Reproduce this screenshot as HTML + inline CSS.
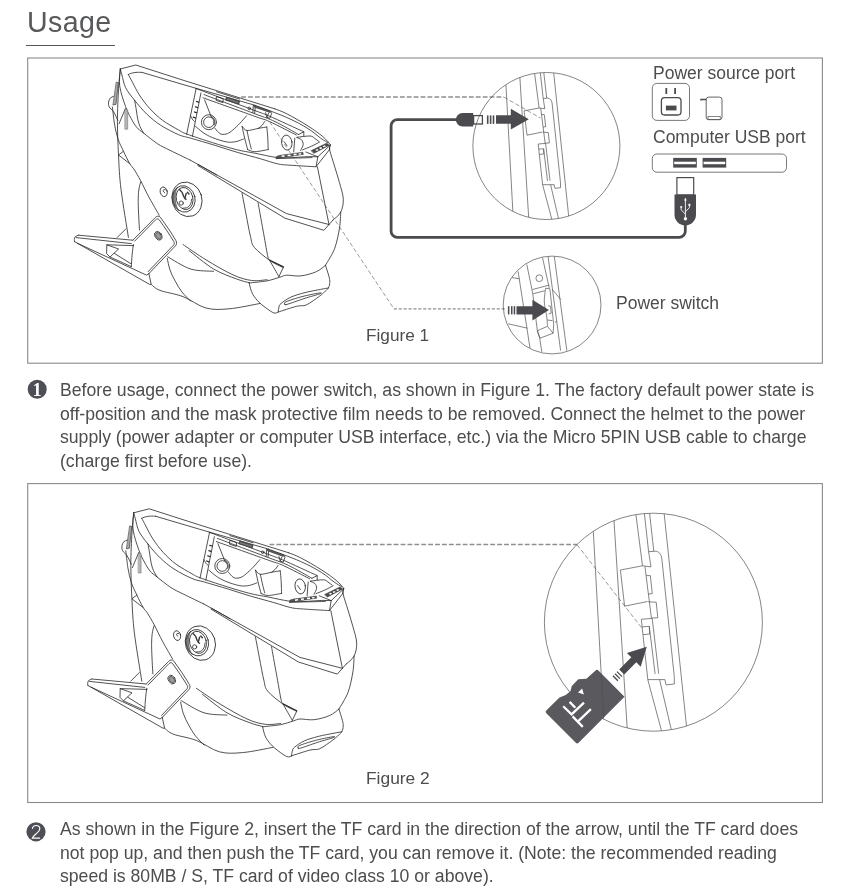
<!DOCTYPE html>
<html>
<head>
<meta charset="utf-8">
<title>Usage</title>
<style>
html,body{margin:0;padding:0;background:#fff;}
body{width:849px;height:892px;position:relative;overflow:hidden;font-family:"Liberation Sans",sans-serif;color:#4d4d4f;}
.abs{position:absolute;}
h1{will-change:transform;position:absolute;left:26.500px;top:4px;letter-spacing:0.350px;margin:0;font-weight:normal;font-size:28.6px;line-height:36px;color:#58595b;white-space:nowrap;}
.rule{position:absolute;left:26px;top:45px;width:89px;height:1.3px;background:#555;}
.box{position:absolute;left:27px;width:795px;border:1px solid #9a9a9a;box-sizing:border-box;}
#box1{top:57px;height:306px;}
#box2{top:483px;height:320px;}
.para{will-change:transform;position:absolute;left:60px;width:780px;font-size:17.640px;line-height:23.6px;white-space:nowrap;color:#4d4d4f;}
.lbl{will-change:transform;position:absolute;font-size:17.5px;line-height:20px;white-space:nowrap;color:#4d4d4f;}
#art{position:absolute;left:0;top:0;width:849px;height:892px;}
</style>
</head>
<body>
<h1>Usage</h1>
<div class="rule"></div>

<div class="lbl" style="left:653px;top:63px;">Power source port</div>
<div class="lbl" style="left:653px;top:127px;">Computer USB port</div>
<div class="lbl" style="left:616px;top:293px;">Power switch</div>
<div class="lbl" style="left:366.3px;top:325px;font-size:17.2px;">Figure 1</div>
<div class="lbl" style="left:366.3px;top:768px;font-size:17.400px;">Figure 2</div>

<div class="para" style="top:378.9px;">Before usage, connect the power switch, as shown in Figure 1. The factory default power state is<br>off-position and the mask protective film needs to be removed. Connect the helmet to the power<br>supply (power adapter or computer USB interface, etc.) via the Micro 5PIN USB cable to charge<br>(charge first before use).</div>

<div class="para" style="top:818px;">As shown in the Figure 2, insert the TF card in the direction of the arrow, until the TF card does<br>not pop up, and then push the TF card, you can remove it. (Note: the recommended reading<br>speed is 80MB / S, TF card of video class 10 or above).</div>

<svg id="art" viewBox="0 0 849 892" width="849" height="892">
<defs>
<g id="helm" fill="none" stroke="#262626" stroke-width="0.8" stroke-linecap="round" stroke-linejoin="round">
<path d="M120.3,69 L135.8,65 L185,80.8 L275,108.9"/>
<path d="M275,108.9 C277,109.7 281.3,111 286.8,113.8 C292.3,116.6 302,122.2 308,126 C314,129.8 319.1,133.5 322.8,136.6 C326.5,139.7 329.1,143.2 330.3,144.5"/>
<path d="M128.3,74.5 C128.8,74.3 130.1,73.6 131.5,73.2 C132.9,72.8 135.2,72.4 137,72.3 C138.8,72.2 141.2,72.4 142,72.4"/>
<path d="M142,72.4 L185,85.1 L255,105.3"/>
<path d="M255,105.3 C260.3,107.3 278,113.6 286.8,117.5 C295.6,121.4 302.4,125.1 308,128.6 C313.6,132 317.3,135.8 320.7,138.2 C324.1,140.6 326.9,142.1 328.1,142.9"/>
<path d="M195.6,88.4 C205.5,92.1 242.8,106 255,110.6 C267.2,115.2 260.7,112.4 268.8,115.9 C276.9,119.4 298,129.2 303.8,131.8"/>
<path d="M204,94.6 C212.5,97.8 243.2,109.3 255,113.8 C266.8,118.3 267.8,118.1 275,121.6 C282.2,125 294.6,132.3 298.5,134.5"/>
<path d="M203,97.8 C211.7,100.9 243.9,112.4 255,116.4 C266.1,120.4 262.9,118.6 269.8,121.7 C276.7,124.8 291.9,132.8 296.3,135"/>
<path d="M128.3,74.5 C129,75.8 130.7,78.9 132.5,82.3 C134.3,85.7 136.5,90.6 139.4,95 C142.3,99.4 146.1,104.6 150,108.8 C153.9,113 157.9,116.9 162.7,120.4 C167.5,123.9 174.5,127.7 178.6,130 C182.7,132.3 181.4,132 187,134.1 C192.6,136.2 204.2,140 212.4,142.6 C220.6,145.2 229.3,147.8 236.4,149.6 C243.5,151.4 248.2,151.9 254.8,153.2 C261.4,154.5 270.1,156.6 276,157.4 C281.9,158.2 284,158.1 290,158.1 C296,158.1 308.3,157.7 312,157.6"/>
<path d="M120.3,69 C120.6,70 121,71.7 121.9,74.8 C122.8,77.9 123.5,83.3 125.6,87.6 C127.7,91.8 131.1,95.9 134.6,100.3 C138.1,104.7 142.5,109.9 146.8,114.1 C151.1,118.2 155.3,121.8 160.6,125.2 C165.9,128.6 173.5,132.5 178.6,134.7 C183.7,136.9 185.1,136.5 191.2,138.3 C197.3,140.1 207.4,143 215.2,145.4 C223,147.8 230.2,150.3 237.8,152.5 C245.4,154.7 253.9,156.9 260.5,158.8 C267.1,160.7 272.5,162.7 277.4,163.8 C282.3,164.9 283.6,164.7 290,165.2 C296.4,165.7 311.7,166.5 316,166.8"/>
<path d="M120.3,69 C120.2,71.9 118.9,80.2 119.8,86.5 C120.7,92.8 123.7,101.3 125.6,106.6 C127.5,111.9 129.2,114.8 131,118.2 C132.8,121.7 134.6,124.8 136.7,127.3 C138.8,129.8 140.1,130.4 143.6,133.1 C147.1,135.8 153,140.8 157.4,143.7 C161.8,146.6 164.6,147.6 170,150.3 C175.4,153 186.7,158.4 190,160"/>
<path d="M190,160 L286.5,213.6 L329,224.5"/>
<path d="M197.7,165.4 L285,218.2 L323.9,230.3 L333,220"/>
<path d="M134.6,100.3 C134.9,101.9 135.8,106.8 136.3,110 C136.8,113.2 137.2,116.7 137.8,119.4 C138.4,122.2 139,124.2 140,126.5 C141,128.8 143,132 143.6,133.1"/>
<path d="M120.3,69 C120,72.2 119.1,79.6 118.6,88.4 C118.1,97.2 117.4,110.5 117.4,121.6 C117.4,132.7 117.9,143.7 118.5,155 C119.1,166.3 119.3,175.6 121,189.3 C122.7,203 127.2,229.4 128.4,237.4"/>
<path d="M112.4,107 C112.8,109.8 113.6,118.7 114.5,124 C115.4,129.3 116.5,134.4 118,139 C119.5,143.6 121.6,147.2 123.5,151.3 C125.4,155.4 127.8,160.3 129.6,163.4 C131.4,166.5 132.7,167.1 134.5,170 C136.3,172.9 138.2,176.1 140.7,180.8 C143.2,185.5 146.3,192.3 149.4,198 C152.5,203.7 157.6,212.3 159.2,215.2"/>
<path d="M113.6,96.4 C113,96.7 111.1,97.1 110.3,98 C109.5,98.9 108.8,100.4 108.6,101.9 C108.4,103.4 108.4,105.2 109.2,106.9 C110,108.6 112.1,109.5 113.6,111.8 C115,114 117.2,119 117.9,120.4"/>
<path d="M125.4,108.6 L119,123.8"/>
<path d="M123.4,151.3 L118.5,155 L129.6,163.6"/>
<path d="M140.7,181.9 C140.4,183.2 139.2,186.7 138.8,190 C138.4,193.3 138.2,197 138.2,201.7 C138.2,206.4 138.6,213.3 138.8,218 C139,222.7 139.4,228 139.5,230"/>
<path d="M125.9,228.8 L117.3,237.4"/>
<path d="M116.6,82.2 L118.4,82.8 L116,104.4 L113.3,105Z" fill="#a8a8a8" stroke-width="0.6"/>
<path d="M125.1,109.6 L127.7,109.6 L127.7,129.2 L125.1,129.2Z" fill="#b4b4b4" stroke-width="0.5" stroke="#666"/>
<path d="M330.3,144.9 L329.3,149.8"/>
<path d="M330.3,144.5 C330.2,145.4 329,146.4 329.7,150 C330.4,153.6 332.9,160.6 334.5,166 C336.1,171.4 337.9,176.9 339.4,182.4 C340.9,187.9 343.1,194.2 343.3,199.2 C343.5,204.2 342.4,208.7 340.7,212.2 C339,215.7 334.3,218.7 333,220"/>
<path d="M317.4,166.8 L329,224.5"/>
<path d="M340.7,212.2 C340.5,214.8 340.5,222 339.5,228 C338.5,234 337,242.2 334.7,248.4 C332.4,254.6 327,262.5 325.5,265.3"/>
<path d="M325.5,265.3 C324,266.4 320.4,269.9 316.3,271.7 C312.2,273.5 305.8,275.3 300.8,275.9 C295.9,276.5 290.1,275 286.6,275.2 C283.1,275.4 282.9,276.4 279.6,277.3 C276.3,278.2 272,279.9 266.9,280.9 C261.8,281.8 252.1,282.6 249.2,283"/>
<path d="M249.2,283 C249.5,284.2 250.2,287.8 251,290 C251.8,292.2 252.4,294 254.1,296.4 C255.8,298.8 258,301.5 261.2,304.2 C264.4,306.9 270.4,311.4 273.2,312.7 C276,314 277.4,312.1 278.2,312"/>
<path d="M325.5,265.3 C326.1,267.2 328.3,273.8 329,276.6 C329.7,279.4 329.9,280.4 329.8,282.3 C329.7,284.2 329.4,286.2 328.3,288 C327.2,289.8 324.9,291.5 323.4,292.9 C321.9,294.3 322,294.4 319.2,296.4 C316.4,298.4 310.2,303.2 306.4,304.9 C302.6,306.5 301.2,305.1 296.5,306.3 C291.8,307.5 281.2,311.1 278.2,312"/>
<path d="M278.2,312 C278.3,311.2 278.5,308.4 279,307 C279.5,305.6 279,305.1 281,303.5 C283,301.9 286.9,298.9 290.9,297.1 C294.9,295.3 300.1,293.9 305,292.6 C309.9,291.3 316.7,290.2 320.6,289.4 C324.5,288.6 327,288.2 328.3,288"/>
<path d="M285,304.2 C284.8,303.8 283.2,303.1 286,301.8 C288.8,300.5 296.6,298.1 302,296.6 C307.4,295.2 315.6,293.6 318.6,293.1 C321.6,292.6 322.4,292.9 320,293.8 C317.6,294.7 309.5,296.8 304,298.6 C298.5,300.4 290.2,303.5 287,304.4 C283.8,305.3 285.2,304.6 285,304.2Z"/>
<path d="M242,193 C242.7,196.5 244.6,206.7 246,214 C247.4,221.3 249.1,231 250.5,236.6 C251.9,242.2 251.1,243.3 254.3,247.3 C257.5,251.3 264.9,257 269.7,260.4 C274.5,263.8 281,266.3 283.3,267.5"/>
<path d="M283.3,267.5 L278.9,276.6"/>
<path d="M258.1,202.9 C258.9,207.4 261.4,221.2 263,230 C264.6,238.8 266.5,250.3 267.6,255.4 C268.7,260.5 267.8,256.9 269.7,260.4 C271.6,263.9 277.4,273.9 278.9,276.6"/>
<path d="M270,260.2 L283.3,266.9" stroke-width="1.2"/>
<path d="M183,244.5 C186.8,247.1 197.6,254.7 206,259.8 C214.4,264.9 225.8,271.7 233.5,275.1 C241.2,278.6 246.3,279.7 251.9,280.5 C257.5,281.3 264.6,279.8 267.2,279.7"/>
<path d="M189.1,250.6 C193.2,253.7 205.7,264.3 213.6,269 C221.5,273.7 230.6,276.7 236.6,279 C242.6,281.3 247.4,282.2 249.6,282.8"/>
<path d="M167.7,256.8 C171.5,258.8 182.9,266.6 190.6,269 C198.2,271.4 209.8,270.9 213.6,271.3"/>
<path d="M167.2,258.3 C167.7,260.2 168.7,266.2 170,270 C171.3,273.8 173.3,277.6 175.3,281.3 C177.3,285 179.4,288.7 182,292 C184.6,295.3 189.2,299.7 190.6,301.2"/>
<path d="M151.2,284.4 C152.7,285.4 154.7,288.4 160,290.4 C165.3,292.4 175.3,293.7 183,296.6 C190.7,299.5 198.3,306 206,308 C213.7,310 220,309.6 229,308.8 C238,308.1 254.7,304.4 259.8,303.5"/>
<path d="M78.4,235.2 C77.9,235.5 75.9,236.1 75.2,236.8 C74.5,237.5 74.4,238.8 74.3,239.6 C74.2,240.4 74.5,241.3 74.5,241.6"/>
<path d="M74.5,241.6 L149.6,284.4 L151.2,284.4 L148.9,273.6"/>
<path d="M78.4,235.2 L132.8,240.2"/>
<path d="M76.2,237.6 L131.4,243.6"/>
<path d="M77.5,243.3 L146.6,275.2 L148.9,273.6"/>
<path d="M133.6,245.6 L106.8,244.8 L106.6,253.6 L110,257 L118.6,249 L106.8,244.8"/>
<path d="M110,257 L131.2,266.6"/>
<path d="M114.5,253.5 L131.4,264"/>
<path d="M133.4,244.5 C133.2,246.1 132.5,250.3 132.2,254 C131.8,257.7 131.5,264.5 131.3,266.6"/>
<path d="M132.8,240.2 L155.2,217.6 C156.8,215.9 158.8,215.6 160.3,217.2 C166,225 171.5,233 175.9,240.6 C177,242.6 176.8,244.2 175.5,245.800 L148.9,273.600"/>
<path d="M134.6,241.200 L155.6,219.800 C156.800,218.600 158.200,218.500 159.200,219.800 C164.500,227 169.500,234.500 173.800,241.600 C174.600,243 174.400,244 173.600,245 L148.200,271.600"/>
<ellipse cx="158.4" cy="235.8" rx="3.3" ry="4.6" transform="rotate(-32 158.4 235.8)"/>
<ellipse cx="158.4" cy="235.8" rx="2.4" ry="3.600" transform="rotate(-32 158.4 235.8)" stroke-width="0.800" stroke="#555" fill="#999"/>
<ellipse cx="187" cy="199.3" rx="14.9" ry="17.5" transform="rotate(-18 187 199.3)"/>
<ellipse cx="183.9" cy="198.9" rx="11.2" ry="13.3" transform="rotate(-14 183.9 198.9)"/>
<path d="M177.2,187.6 C171.4,192.6 171.6,204.6 178.8,210.8 C174.6,204.6 174,193.6 177.2,187.6 Z" fill="#8a8a8a" stroke-width="0.5"/>
<ellipse cx="184.6" cy="198.5" rx="8.3" ry="11.2" transform="rotate(-14 184.6 198.500)"/>
<circle cx="181.2" cy="203.1" r="2.1"/>
<path d="M179.6,189.8 L181.600,191.800 M187.400,192.200 L189,194 M184.400,198 L186,199.400 M182.200,192.500 L183.800,196.800 M186.200,193.400 L185.200,197.200" stroke-width="1.4" stroke="#3a3a3a"/>
<path d="M182.8,208.2 C183.6,208.1 186.2,208.1 187.5,207.4 C188.8,206.7 189.9,205.4 190.6,204 C191.3,202.6 191.4,200 191.6,199.2"/>
<ellipse cx="163.7" cy="191.8" rx="3.5" ry="4.9" transform="rotate(-14 163.700 191.800)"/>
<path d="M165.4,189.8 C165.1,189.8 164.2,189.4 163.8,189.6 C163.4,189.8 163.1,190.7 163.2,191.2 C163.3,191.7 164.4,192.4 164.6,192.6"/>
<path d="M196.1,88.8 L186.6,134.4 M200.9,93 L192.4,136.4"/>
<path d="M196.5,101.5 L198.6,102.2 M195.5,106.8 L197.6,107.5 M194.4,112 L196.500,112.700 M193.300,117.200 L195.400,118" stroke-width="1.3"/>
<path d="M190.6,115.8 C190.9,116.3 191.5,118 192.2,119 C192.8,120 194.1,121.1 194.5,121.5"/>
<circle cx="208.9" cy="122.2" r="7.5"/><circle cx="208.9" cy="122.2" r="5.3"/>
<path d="M211.8,117 C212.2,117.5 213.7,118.8 214.2,120 C214.7,121.2 214.5,123.7 214.6,124.4" stroke-width="1.5" stroke="#666"/>
<path d="M204.6,99.9 L211.5,117.4"/>
<path d="M214.7,128 C215.3,128.7 217.3,131.3 218.5,132.4 C219.7,133.5 220.6,134.2 222.1,134.4 C223.6,134.6 225.7,134.3 227.5,133.6 C229.3,132.9 230.6,131.8 232.7,130.1 C234.8,128.4 237.7,125.6 240,123.2 C242.3,120.8 245.4,117 246.5,115.8"/>
<path d="M195.4,126.3 C196.7,127.3 200.2,130.6 203,132.5 C205.8,134.4 208.5,136 212.4,137.6 C216.3,139.2 222.6,141.2 226.5,141.9 C230.4,142.6 233.2,142.1 236,141.6 C238.8,141.1 242.2,139.4 243.5,139"/>
<path d="M216.8,96.7 L223.2,98.8 L222.9,102.6 L216.5,100.5Z"/>
<path d="M226.5,97.3 L239.4,101.4 L238.6,104 L225.8,99.9Z" stroke-width="1.2" stroke="#444" fill="#777"/>
<path d="M216.5,91.8 L239.6,99"/>
<circle cx="249.3" cy="108.4" r="1.3"/>
<path d="M253.5,105.4 L270.3,111.2 L271.6,113.4 L269.8,118.4 L266.8,117.2 L265.6,112.8 M253.3,105.6 L252.8,112.6 M255.4,106.6 L254.6,113.4 M266.8,117.2 L268.6,113.2"/>
<path d="M254.5,106.6 L269.8,112" stroke-width="1.8" stroke="#555"/>
<path d="M242.1,126.3 C242.9,127 244.3,130.2 247,130.5 C249.7,130.8 255,129 258.3,128.4 C261.6,127.8 265.4,127.2 266.8,127"/>
<path d="M266.8,127 C267,128.8 267.6,134.2 267.8,138 C268,141.8 268.1,147.7 268.2,149.6"/>
<path d="M242.1,126.3 C242.5,128.2 243.7,134.1 244.6,138 C245.5,141.9 247.2,147.7 247.7,149.6"/>
<path d="M247,130.5 C247.3,132.1 248.3,136.9 249,140 C249.7,143.1 250.9,147.5 251.3,149"/>
<path d="M247.7,149.6 C248.9,149.9 251.4,151.7 254.8,151.7 C258.2,151.7 266,149.9 268.2,149.6"/>
<path d="M258.3,128.4 C258.9,127.9 260.9,126.5 262,125.4 C263.1,124.3 264.2,122.2 264.6,121.6"/>
<path d="M298.5,134.5 L303.8,131.8 L303.8,136"/>
<path d="M296.9,137.3 C299.1,137.1 307.2,135.8 310.1,136 C313,136.2 313.1,137.3 314.5,138.2 C315.9,139.1 317.9,140.7 318.6,141.2"/>
<ellipse cx="286.8" cy="142.6" rx="5.2" ry="7.5" transform="rotate(-8 286.800 142.600)"/>
<path d="M284.2,141.8 L287,145.8"/>
<path d="M296.9,137.6 C297.7,138 300.4,138.7 301.5,139.8 C302.6,141 303.3,142.7 303.2,144.5 C303.1,146.3 301,149.6 300.6,150.6"/>
<path d="M294.8,138.2 L293.7,151.9"/>
<path d="M302.7,149.8 C304.2,149.2 308.7,147.5 311.5,146.2 C314.3,144.9 318.3,142.7 319.7,142"/>
<path d="M311.4,150.6 L326.6,143.2 L329.4,145.2 L314,153.2Z" fill="#4a4a4a" stroke-width="0.5"/>
<path d="M315.3,149.9 L317.4,148.9 L318.7,150 L316.600,151 Z M319,148.100 L321.100,147.100 L322.400,148.200 L320.300,149.200 Z M322.600,146.300 L324.700,145.300 L326,146.300 L323.900,147.300 Z" fill="#fff" stroke="none"/>
<path d="M305.9,152 L317.8,156.8 L330.1,145.3"/>
<path d="M317.8,156.8 L316.1,166.7 L329.3,149.8"/>
<path d="M276.6,156.3 L280,155.2 L302.9,152.2 L303.4,154.4 L276.3,158.5Z" fill="#555" stroke-width="0.4"/>
<path d="M281.5,155.6 L284.5,155.200 L284.700,156.700 L281.700,157.100 Z M287.500,154.800 L290.500,154.400 L290.700,155.900 L287.700,156.300 Z M293.500,154 L296.500,153.600 L296.700,155.100 L293.700,155.500 Z M298.500,153.400 L301,153.100 L301.200,154.500 L298.700,154.800 Z" fill="#fff" stroke="none"/>
<path d="M276.3,158.6 L308.7,156.6 L317.8,156.8"/>
<path d="M198.3,164.5 L216.6,175"/>
</g>
</defs>
<use href="#helm"/>
<use href="#helm" transform="translate(13.4,443.8)"/>
<clipPath id="cb1"><circle cx="546.4" cy="146" r="73.5"/></clipPath><clipPath id="cs1"><circle cx="552.1" cy="305" r="48.9"/></clipPath><g id="fig1">
<path d="M241.2,97 H503.8" stroke="#8e8e8e" stroke-width="1.3" stroke-dasharray="4.8 2.1" fill="none"/>
<path d="M503.8,97 L540.3,118" stroke="#555" stroke-width="0.6" stroke-dasharray="4.5 2.2" fill="none"/>
<path d="M269.8,122 L393.8,308.6" stroke="#555" stroke-width="0.6" stroke-dasharray="4.2 2.4" fill="none"/>
<path d="M393.8,308.9 H506.5" stroke="#8e8e8e" stroke-width="1.3" stroke-dasharray="3.1 1.8" fill="none"/>
<path d="M458,119.7 H397.3 a6.2,6.2 0 0 0 -6.2,6.2 V231.2 a6.2,6.2 0 0 0 6.2,6.2 H679.1 a6.2,6.2 0 0 0 6.2,-6.2 V222" fill="none" stroke="#4b4b4f" stroke-width="2.8"/>
<path d="M473.2,113.1 H462.6 a6.7,6.7 0 0 0 0,13.5 H473.2 Z" fill="#4b4b4f"/>
<rect x="473.6" y="115.6" width="8.8" height="8.4" fill="#fff" stroke="#4b4b4f" stroke-width="1.3"/>
<rect x="486.9" y="115.4" width="1.6" height="8.5" fill="#4b4b4f"/>
<rect x="489.8" y="115.4" width="1.6" height="8.5" fill="#4b4b4f"/>
<rect x="492.7" y="115.4" width="1.6" height="8.5" fill="#4b4b4f"/>
<path d="M496,115.3 H510.8 V108.8 L528.8,119.3 L510.8,129.5 V123.8 H496 Z" fill="#4b4b4f"/>
<circle cx="546.4" cy="146" r="73.5" fill="none" stroke="#505050" stroke-width="0.7"/>
<g clip-path="url(#cb1)">
<path d="M505.9,84.4 L512.8,210.5 L513.4,222.1" fill="none" stroke="#505050" stroke-width="0.7"/>
<path d="M519.8,76.5 L528.7,217.5 L529.3,225.4" fill="none" stroke="#505050" stroke-width="0.7"/>
<path d="M534.6,73.3 L539.1,108.0" fill="none" stroke="#505050" stroke-width="0.7"/>
<path d="M542.6,184.7 L551.9,219.5 L552.5,222.1" fill="none" stroke="#505050" stroke-width="0.7"/>
<path d="M540.3,72.8 L543.2,98.5 L544.8,108.7" fill="none" stroke="#505050" stroke-width="0.7"/>
<path d="M543.8,72.7 L546.7,98.1" fill="none" stroke="#505050" stroke-width="0.7"/>
<path d="M553.7,73.0 L568.4,213.5 L569.1,219.4" fill="none" stroke="#505050" stroke-width="0.7"/>
<path d="M550.6,184.7 L558.5,218.5 L559.3,222.1" fill="none" stroke="#505050" stroke-width="0.7"/>
<path d="M543.2,98.5 L547.6,98.1 C550.2,98.3 551.7,100.0 552.1,103.2 L560.5,182.7 L560.5,187.7 L554.9,188.3 L554.2,184.7 L542.6,184.7 L538.2,144.0 L545.6,143.4 L550.0,180.7" fill="none" stroke="#505050" stroke-width="0.7"/>
<path d="M544.8,108.7 L539.1,108.0 L524.1,110.8 L527.0,135.2 L542.5,132.0" fill="none" stroke="#505050" stroke-width="0.7"/>
<path d="M540.7,108.2 L545.1,143.0" fill="none" stroke="#505050" stroke-width="0.7"/>
<path d="M541.5,114.6 L544.3,114.6 L545.7,126.7 L543.0,127.0" fill="none" stroke="#505050" stroke-width="0.7"/>
<path d="M542.9,132.2 L548.3,132.5 L549.4,143.0 L545.1,143.2" fill="none" stroke="#505050" stroke-width="0.7"/>
<path d="M538.8,149.1 L543.6,148.8 L543.8,154.0 L539.4,154.4" fill="none" stroke="#505050" stroke-width="0.7"/>
<path d="M543.6,148.8 L547.5,180.9" fill="none" stroke="#505050" stroke-width="0.7"/>
</g>
<rect x="652.3" y="83.4" width="37.2" height="37" rx="4.5" fill="none" stroke="#6a6a6a" stroke-width="0.9"/>
<rect x="665.4" y="88" width="1.8" height="6" fill="#4b4b4f"/><rect x="674.2" y="88" width="1.800" height="6" fill="#4b4b4f"/>
<rect x="661.4" y="97.6" width="19.6" height="17.4" rx="3.2" fill="none" stroke="#4b4b4f" stroke-width="1.3"/>
<rect x="665.9" y="105.6" width="10.6" height="4.8" fill="#4b4b4f"/>
<rect x="706.2" y="97.1" width="15.8" height="22.6" rx="2.6" fill="none" stroke="#555" stroke-width="0.9"/>
<rect x="708" y="116.6" width="12.2" height="2.9" fill="none" stroke="#555" stroke-width="0.7"/>
<path d="M700.4,99.4 H706.4 M700.9,99.4 V100.600" stroke="#4b4b4f" stroke-width="1.5" fill="none"/>
<rect x="652.3" y="154" width="134.2" height="18.2" rx="4.5" fill="#fff" stroke="#6a6a6a" stroke-width="0.9"/>
<rect x="673.2" y="157.9" width="23.6" height="9.7" fill="#4b4b4f"/>
<rect x="674.2" y="161.7" width="21.6" height="2.5" fill="#fff"/>
<rect x="702.6" y="157.9" width="23.6" height="9.7" fill="#4b4b4f"/>
<rect x="703.6" y="161.7" width="21.6" height="2.5" fill="#fff"/>
<rect x="676.9" y="177.6" width="16.800" height="17.4" fill="#fff" stroke="#4b4b4f" stroke-width="1.2"/>
<path d="M674.5,194.4 H696 V214.6 a10.75,10.75 0 0 1 -21.5,0 Z" fill="#4b4b4f"/>
<g stroke="#fff" stroke-width="0.9" fill="none"><path d="M685.4,199.5 V217.5 M685.4,214.2 L681.200,209.800 V207.600 M685.400,211.800 L689.400,207.600 V205.600"/></g>
<path d="M685.4,197.6 L686.8,200.4 H684 Z" fill="#fff"/><circle cx="685.4" cy="218.800" r="1.700" fill="#fff"/><circle cx="681.200" cy="207" r="1.100" fill="#fff"/><rect x="688.400" y="203.800" width="2" height="2" fill="#fff"/>
<circle cx="552.1" cy="305" r="48.9" fill="none" stroke="#505050" stroke-width="0.7"/>
<g clip-path="url(#cs1)">
<path d="M518.1,271.4 L530,348.1" fill="none" stroke="#505050" stroke-width="0.7"/>
<path d="M526.8,264.5 L532.7,293.2 L537.5,331.9 L539.7,338.2 L541.8,351.9" fill="none" stroke="#505050" stroke-width="0.7"/>
<path d="M542.5,257.6 L549.3,288.2" fill="none" stroke="#505050" stroke-width="0.7"/>
<path d="M548.1,256.6 L560.6,350.6" fill="none" stroke="#505050" stroke-width="0.7"/>
<path d="M554.3,256.6 L566.8,350.6" fill="none" stroke="#505050" stroke-width="0.7"/>
<path d="M552.4,289.5 L560.8,299.6" fill="none" stroke="#505050" stroke-width="0.7"/>
<path d="M532.5,289.5 L549.3,285.1" fill="none" stroke="#505050" stroke-width="0.7"/>
<path d="M533.1,293.8 L544.9,290.7" fill="none" stroke="#505050" stroke-width="0.7"/>
<path d="M545.6,288.2 C545.4,290.5 544.1,297.1 544.3,301.9 C544.5,306.7 546.3,312.9 546.8,316.9 C547.3,320.9 547.3,324.2 547.4,325.7" fill="none" stroke="#505050" stroke-width="0.7"/>
<path d="M545.6,288.2 L549.9,288.8 L553.7,324.4 L553.1,333.2 L540,338.2 L537.5,330.7 L547.4,326.3 L553.1,333.2" fill="none" stroke="#505050" stroke-width="0.7"/>
<path d="M547.4,320 L552.4,320.6" fill="none" stroke="#505050" stroke-width="0.7"/>
<path d="M554.9,321.9 L556.8,321.9" fill="none" stroke="#505050" stroke-width="0.7"/>
<path d="M511.9,277.6 L519.4,278.8" fill="none" stroke="#505050" stroke-width="0.7"/>
<path d="M508.1,323.8 L527.5,328.2" fill="none" stroke="#505050" stroke-width="0.7"/>
<path d="M548.1,305.7 L550.6,306.3 L551.2,313.2 L548.7,313.8" fill="none" stroke="#505050" stroke-width="0.7"/>
</g>
<circle cx="539.3" cy="278.2" r="3.4" fill="none" stroke="#505050" stroke-width="0.7"/>
<rect x="507.9" y="306.2" width="1.5" height="8.2" fill="#4b4b4f"/>
<rect x="511.0" y="306.2" width="1.5" height="8.2" fill="#4b4b4f"/>
<rect x="513.7" y="306.2" width="1.5" height="8.2" fill="#4b4b4f"/>
<path d="M516.500,306.200 H532.400 V299.800 L548.900,309.900 L532.400,320.400 V314.500 H516.500 Z" fill="#4b4b4f"/>
</g>
<clipPath id="cb2"><circle cx="653.4" cy="622.2" r="109"/></clipPath><g id="fig2">
<path d="M269.5,544.5 H577.1" stroke="#8e8e8e" stroke-width="1.3" stroke-dasharray="4.8 2.1" fill="none"/>
<path d="M577.1,544.8 L641.9,628.1" stroke="#555" stroke-width="0.6" stroke-dasharray="4.4 2.3" fill="none"/>
<circle cx="653.4" cy="622.2" r="109" fill="none" stroke="#505050" stroke-width="0.7"/>
<path d="M546.3,713.2 Q545.0,711.9 546.3,710.6 L559.5,697.4 L565.7,695.1 L570.4,691.3 L571.8,685.9 L578.3,679.3 L586.4,678.8 L595.6,670.5 Q597.0,669.1 598.4,670.5 L624.5,696.7 L578.6,742.7 Q577.2,744.1 575.8,742.7Z" fill="#59595e"/>
<g stroke="#fff" stroke-width="2.3" fill="none" stroke-linecap="butt"><path d="M572.6,716.4 L582.8,726.9 M577.8,721.6 L590.9,709.2"/><path d="M563.2,706.2 L571.6,714.4 L584,702.6 M569.6,701.9 L575.3,707.7 M571.0,715.0 L571.9,714.1"/></g>
<path d="M578,692.4 L582.1,688.5 L583.9,694.4 Z" fill="#fff"/>
<g clip-path="url(#cb2)">
<path d="M593.3,530.9 L603.6,717.9 L604.5,735" fill="none" stroke="#505050" stroke-width="0.7"/>
<path d="M613.9,519.1 L627.2,728.2 L628,740" fill="none" stroke="#505050" stroke-width="0.7"/>
<path d="M635.9,514.4 L642.5,565.8" fill="none" stroke="#505050" stroke-width="0.7"/>
<path d="M647.8,679.6 L661.6,731.2 L662.5,735" fill="none" stroke="#505050" stroke-width="0.7"/>
<path d="M644.4,513.7 L648.6,551.7 L651,566.9" fill="none" stroke="#505050" stroke-width="0.7"/>
<path d="M649.6,513.5 L653.8,551.2" fill="none" stroke="#505050" stroke-width="0.7"/>
<path d="M664.2,514 L686.1,722.3 L687,731" fill="none" stroke="#505050" stroke-width="0.7"/>
<path d="M659.6,679.6 L671.3,729.7 L672.5,735" fill="none" stroke="#505050" stroke-width="0.7"/>
<path d="M648.6,551.7 L655.2,551.2 C659,551.4 661.2,554 661.8,558.7 L674.3,676.7 L674.3,684 L666,684.9 L664.9,679.6 L647.8,679.6 L641.3,619.3 L652.2,618.4 L658.7,673.7" fill="none" stroke="#505050" stroke-width="0.7"/>
<path d="M651,566.9 L642.5,565.8 L620.4,570 L624.6,606.2 L647.6,601.5" fill="none" stroke="#505050" stroke-width="0.7"/>
<path d="M644.9,566.2 L651.4,617.8" fill="none" stroke="#505050" stroke-width="0.7"/>
<path d="M646.2,575.6 L650.3,575.6 L652.3,593.6 L648.4,594" fill="none" stroke="#505050" stroke-width="0.7"/>
<path d="M648.2,601.8 L656.2,602.2 L657.8,617.8 L651.4,618" fill="none" stroke="#505050" stroke-width="0.7"/>
<path d="M642.1,626.8 L649.3,626.4 L649.6,634 L643,634.7" fill="none" stroke="#505050" stroke-width="0.7"/>
<path d="M649.3,626.4 L655.1,673.9" fill="none" stroke="#505050" stroke-width="0.7"/>
</g>
<path d="M646.8,646.8 L640.7,666.7 L636.3,662.3 L624.2,674.4 L619.2,669.4 L631.3,657.3 L626.9,652.9Z" fill="#4b4b4f"/>
<path d="M617.0,671.6 L622.0,676.6" stroke="#4b4b4f" stroke-width="1.3" fill="none"/>
<path d="M615.0,673.7 L619.9,678.6" stroke="#4b4b4f" stroke-width="1.3" fill="none"/>
<path d="M612.9,675.7 L617.9,680.7" stroke="#4b4b4f" stroke-width="1.3" fill="none"/>
</g>
<rect x="27.7" y="58" width="794.7" height="305.2" fill="none" stroke="#8a8a8a" stroke-width="1.1"/>
<rect x="27.7" y="483.6" width="794.7" height="318.9" fill="none" stroke="#8a8a8a" stroke-width="1.1"/>
<!-- bullets -->
<g id="bullets">
<circle cx="37.2" cy="389.2" r="9.5" fill="#4e4e56"/>
<text x="37.2" y="395.6" font-family="Liberation Serif" font-weight="bold" font-size="18.5" fill="#fff" text-anchor="middle">1</text>
<circle cx="36" cy="831.8" r="9.6" fill="#4e4e56"/>
<path d="M32.4,828.900 C32.600,826.700 34.200,825.500 36.200,825.500 C38.300,825.500 39.800,826.800 39.800,828.700 C39.800,830.500 38.600,831.700 36.600,833.400 C34.500,835.200 32.800,836.500 32.300,838.100 H40.100" fill="none" stroke="#fff" stroke-width="1.150"/>
</g>
</svg>
</body>
</html>
